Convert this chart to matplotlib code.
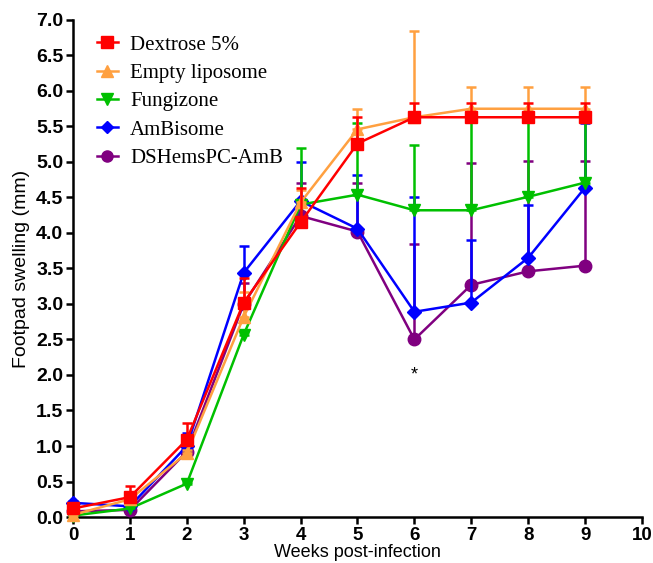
import numpy as np
import matplotlib
matplotlib.use('Agg')
import matplotlib.pyplot as plt

weeks = [0, 1, 2, 3, 4, 5, 6, 7, 8, 9]

labels = ['Dextrose 5%', 'Empty liposome', 'Fungizone', 'AmBisome', 'DSHemsPC-AmB']
colors = ['#ff0000', '#ffa040', '#00c000', '#0000ff', '#800080']
markers = ['s', '^', 'v', 'D', 'o']

# mean footpad swelling (mm)
dextrose = [0.12, 0.28, 1.09, 3.02, 4.15, 5.26, 5.63, 5.63, 5.63, 5.63]
empty_lipo = [0.03, 0.25, 0.90, 2.82, 4.43, 5.46, 5.63, 5.75, 5.75, 5.75]
fungizone = [0.02, 0.12, 0.47, 2.57, 4.40, 4.54, 4.32, 4.32, 4.51, 4.71]
ambisome = [0.20, 0.15, 1.00, 3.44, 4.45, 4.06, 2.89, 3.02, 3.65, 4.64]
dshems = [0.08, 0.10, 0.92, 3.00, 4.24, 4.02, 2.50, 3.27, 3.46, 3.54]

# top of the (upper only) error bars
dextrose_top = [0.16, 0.43, 1.32, 3.37, 4.64, 5.64, 5.83, 5.83, 5.83, 5.83]
empty_lipo_top = [0.06, 0.30, 0.95, 3.17, 4.60, 5.74, 6.84, 6.05, 6.05, 6.05]
fungizone_top = [0.04, 0.15, 0.50, 2.60, 5.20, 5.55, 5.24, 5.57, 5.57, 5.57]
ambisome_top = [0.22, 0.18, 1.18, 3.81, 5.00, 4.81, 4.50, 3.90, 4.40, 5.55]
dshems_top = [0.10, 0.13, 0.95, 3.30, 4.71, 4.70, 3.85, 4.98, 5.01, 5.01]

means = [dextrose, empty_lipo, fungizone, ambisome, dshems]
tops = [dextrose_top, empty_lipo_top, fungizone_top, ambisome_top, dshems_top]

plt.rcParams['font.family'] = ['Liberation Sans', 'DejaVu Sans']

fig = plt.figure(figsize=(6.53, 5.63), dpi=100)
ax = fig.add_axes([0.1118, 0.0817, 0.8713, 0.8828])

for i in reversed(range(5)):
    m = np.array(means[i])
    up = np.array(tops[i]) - m
    err = [np.zeros_like(m), up]
    h = ax.errorbar(weeks, m, yerr=err, color=colors[i], marker=markers[i],
                    markersize=9 if markers[i] != 'D' else 7, lw=1.8,
                    elinewidth=1.8, capsize=3.8, capthick=1.8,
                    clip_on=False, zorder=3 + (4 - i), label=labels[i])
    for art in list(h.lines[1]) + list(h.lines[2]):
        art.set_clip_on(False)

ax.text(6, 2.0, '*', ha='center', va='center', fontsize=13)

ax.set_xlim(0, 10)
ax.set_ylim(0, 7.0)
ax.set_xticks(range(0, 11))
ax.set_yticks(np.arange(0, 7.01, 0.5))
ax.set_yticklabels([f'{v:.1f}' for v in np.arange(0, 7.01, 0.5)])
for lab in ax.get_yticklabels():
    lab.set_fontweight('bold')
    lab.set_fontsize(14)
for lab in ax.get_xticklabels():
    lab.set_fontweight('bold')
    lab.set_fontsize(13.5)
ax.tick_params(width=1.8, length=5)
ax.tick_params(axis='x', pad=2)
ax.tick_params(axis='y', pad=2)
for s in ['top', 'right']:
    ax.spines[s].set_visible(False)
for s in ['left', 'bottom']:
    ax.spines[s].set_linewidth(1.8)

ax.set_ylabel('Footpad swelling (mm)', fontsize=14, labelpad=4)
ax.set_xlabel('Weeks post-infection', fontsize=13, labelpad=0)

leg_handles = [plt.Line2D([], [], color=colors[i], marker=markers[i], lw=1.8,
                          markersize=8 if markers[i] != 'D' else 6)
               for i in range(5)]
ax.legend(leg_handles, labels, loc='upper left', bbox_to_anchor=(0.02, 0.995),
          frameon=False, prop={'family': 'Liberation Serif', 'size': 15},
          handlelength=1.0, handletextpad=0.6, labelspacing=0.42,
          borderaxespad=0.2)

fig.savefig('out.png', dpi=100)
